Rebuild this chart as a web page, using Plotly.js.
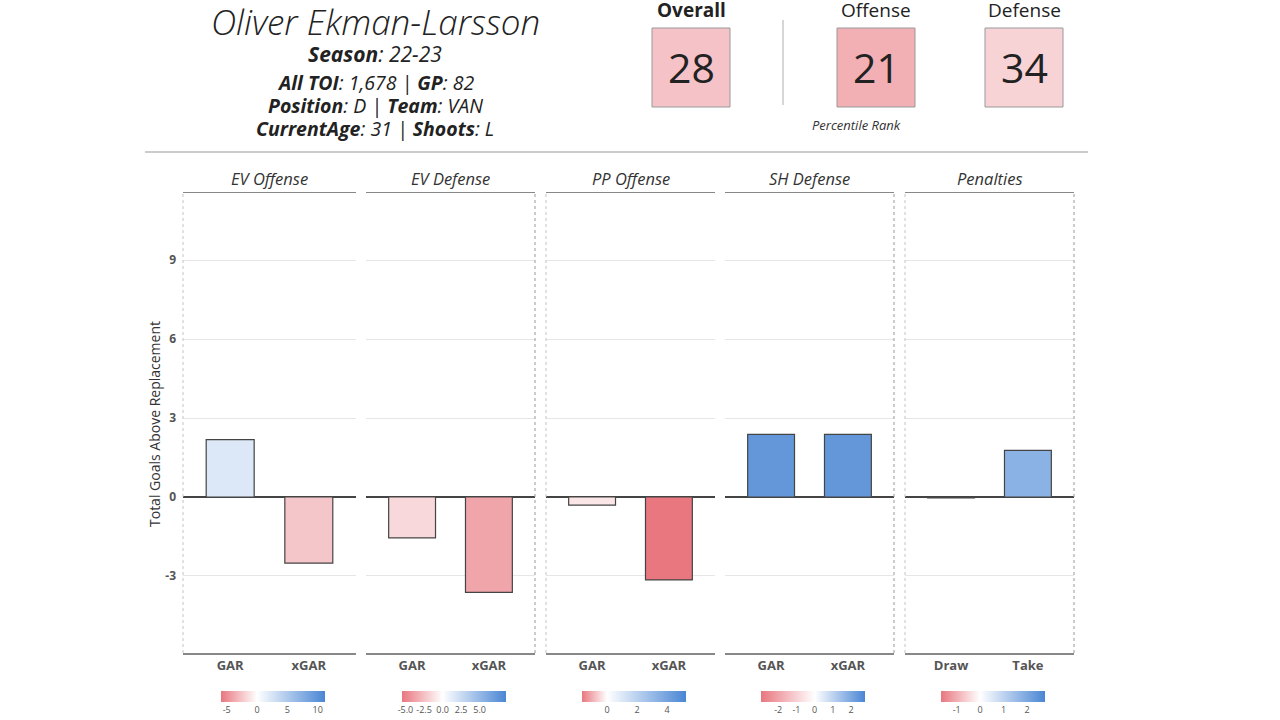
<!DOCTYPE html>
<html><head><meta charset="utf-8">
<script src="https://cdn.plot.ly/plotly-3.0.1.min.js"></script>
<style>html,body{margin:0;padding:0;background:#fff}#chart{width:1280px;height:720px}</style>
</head><body><div id="chart"></div>
<script>
// ---- data ----
const playerName = "Oliver Ekman-Larsson";
const season = "22-23";
const allTOI = "1,678";
const gamesPlayed = "82";
const position = "D";
const team = "VAN";
const currentAge = "31";
const shoots = "L";

const panels = ["EV Offense", "EV Defense", "PP Offense", "SH Defense", "Penalties"];
const categories = [["GAR","xGAR"],["GAR","xGAR"],["GAR","xGAR"],["GAR","xGAR"],["Draw","Take"]];
const values = [[2.18,-2.51],[-1.55,-3.62],[-0.31,-3.15],[2.38,2.38],[-0.03,1.77]];
const scaleMin = [-5.94,-5.47,-1.67,-2.94,-1.67];
const scaleMax = [11.2,8.55,5.27,2.76,2.77];
const scaleTicks = [[-5,0,5,10],[-5,-2.5,0,2.5,5],[0,2,4],[-2,-1,0,1,2],[-1,0,1,2]];
const scaleTickText = [["-5","0","5","10"],["-5.0","-2.5","0.0","2.5","5.0"],["0","2","4"],["-2","-1","0","1","2"],["-1","0","1","2"]];
const yTicks = [-3,0,3,6,9];
const yTickText = ["-3","0","3","6","9"];
const yTitle = "Total Goals Above Replacement";

const pctLabels = ["Overall","Offense","Defense"];
const pctValues = [28,21,34];
const pctNote = "Percentile Rank";

// ---- geometry / style ----
const W = 1280, H = 720;
const px = p => p / W, py = p => 1 - p / H;
const panelLeft = [183,366,546,725,905];
const panelRight = [356,535,715,894,1074];
const panelTop = 193, panelBottom = 653;
const RED = [232,119,127], BLUE = [98,151,213];
const FONT = "Open Sans, Noto Sans, sans-serif";

function mix(c, t){ return 'rgb(' + c.map(v => Math.round(255 - t*(255-v))).join(',') + ')'; }
function pctColor(p){ return p < 50 ? mix(RED,(50-p)/50) : mix(BLUE,(p-50)/50); }

const data = [];
const layout = {
  width: W, height: H, margin:{l:0,r:0,t:0,b:0},
  paper_bgcolor:'#fff', plot_bgcolor:'#fff', showlegend:false,
  font:{family:FONT, color:'#333'},
  shapes:[], annotations:[]
};

panels.forEach((name,i)=>{
  const k = i===0 ? '' : String(i+1);
  const cmin = scaleMin[i], cmax = scaleMax[i];
  const w = (0 - cmin)/(cmax - cmin);
  data.push({
    type:'bar', x:categories[i], y:values[i], width:0.61,
    xaxis:'x'+k, yaxis:'y'+k, hoverinfo:'skip',
    marker:{
      color:values[i], cmin:cmin, cmax:cmax,
      colorscale:[[0,mix(RED,1)],[w,'#ffffff'],[1,'rgb(74,134,212)']],
      line:{color:'#444',width:1.2},
      showscale:true,
      colorbar:{
        orientation:'h', x:px((panelLeft[i]+panelRight[i])/2+3.5), xanchor:'center',
        y:py(691), yanchor:'top', lenmode:'pixels', len:104,
        thicknessmode:'pixels', thickness:11, xpad:0, ypad:0,
        outlinewidth:0, ticks:'', tickmode:'array', tickvals:scaleTicks[i], ticktext:scaleTickText[i],
        tickangle:0, tickfont:{size:9,color:'#555',family:FONT}
      }
    }
  });
  layout['xaxis'+k] = {
    domain:[px(panelLeft[i]), px(panelRight[i])], anchor:'y'+k,
    type:'category', range:[-0.6,1.6], showgrid:false, zeroline:false,
    showline:true, mirror:true, linecolor:'#888', linewidth:1.5,
    ticks:'', tickfont:{size:13,color:'#555',family:FONT,weight:'bold'}, fixedrange:true
  };
  layout['yaxis'+k] = {
    domain:[py(panelBottom), py(panelTop)], anchor:'x'+k,
    range:[-5.925,11.545], tickmode:'array', tickvals:yTicks, ticktext:yTickText, showticklabels:i===0,
    ticks:'', ticklabelstandoff:6,
    tickfont:{size:12,color:'#555',family:FONT,weight:'bold'},
    showgrid:true, gridcolor:'#e6e6e6', gridwidth:1,
    zeroline:true, zerolinecolor:'#444', zerolinewidth:1.5,
    showline:false, fixedrange:true
  };
  layout.annotations.push({
    text:'<i>'+name+'</i>', xref:'paper', yref:'paper',
    x:px((panelLeft[i]+panelRight[i])/2), y:py(178), xanchor:'center', yanchor:'middle',
    showarrow:false, font:{size:16.5,color:'#333',family:FONT}
  });
});

// dashed group borders
[[183,'#c4c4c4'],[535,'#999'],[546,'#c4c4c4'],[894,'#999'],[905,'#c4c4c4'],[1074,'#999']].forEach(([xp,c])=>{
  layout.shapes.push({type:'line', xref:'paper', yref:'paper', x0:px(xp), x1:px(xp),
    y0:py(panelBottom), y1:py(panelTop), line:{color:c,width:1,dash:'3px,3px'}});
});

// header separator
layout.shapes.push({type:'line', xref:'paper', yref:'paper', x0:px(145), x1:px(1088),
  y0:py(152), y1:py(152), line:{color:'#999',width:1}});
// vertical separator in percentile area
layout.shapes.push({type:'line', xref:'paper', yref:'paper', x0:px(783), x1:px(783),
  y0:py(20), y1:py(105), line:{color:'#c8c8c8',width:1.5}});

// y axis title
layout.annotations.push({text:yTitle, xref:'paper', yref:'paper', x:px(154), y:py(424),
  textangle:-90, showarrow:false, xanchor:'center', yanchor:'middle',
  font:{size:14,color:'#333',family:FONT}});

// player header
const headerLines = [
  {t:'<i>'+playerName+'</i>', y:21, s:35, w:300},
  {t:'<b><i>Season</i></b><i>: '+season+'</i>', y:54, s:21, w:400},
  {t:'<b><i>All TOI</i></b><i>: '+allTOI+' | </i><b><i>GP</i></b><i>: '+gamesPlayed+'</i>', y:82, s:19.5, w:400},
  {t:'<b><i>Position</i></b><i>: '+position+' | </i><b><i>Team</i></b><i>: '+team+'</i>', y:105, s:19.5, w:400},
  {t:'<b><i>CurrentAge</i></b><i>: '+currentAge+' | </i><b><i>Shoots</i></b><i>: '+shoots+'</i>', y:128, s:19.5, w:400}
];
headerLines.forEach(h=>{
  layout.annotations.push({text:h.t, xref:'paper', yref:'paper', x:px(375), y:py(h.y),
    xanchor:'center', yanchor:'middle', showarrow:false, font:{size:h.s,color:'#222',family:FONT,weight:h.w}});
});

// percentile boxes
const boxLeft = [652,837,985];
pctLabels.forEach((lab,i)=>{
  const x0 = boxLeft[i], x1 = x0+78, cx = (x0+x1)/2;
  layout.shapes.push({type:'rect', xref:'paper', yref:'paper', x0:px(x0), x1:px(x1),
    y0:py(107), y1:py(28), fillcolor:pctColor(pctValues[i]), line:{color:'#999',width:1}});
  layout.annotations.push({text:String(pctValues[i]), xref:'paper', yref:'paper', x:px(cx), y:py(67),
    xanchor:'center', yanchor:'middle', showarrow:false, font:{size:41,color:'#222',family:FONT}});
  layout.annotations.push({text: i===0 ? '<b>'+lab+'</b>' : lab, xref:'paper', yref:'paper', x:px(cx), y:py(10),
    xanchor:'center', yanchor:'middle', showarrow:false, font:{size:19,color:'#222',family:FONT}});
});
layout.annotations.push({text:'<i>'+pctNote+'</i>', xref:'paper', yref:'paper', x:px(856), y:py(125),
  xanchor:'center', yanchor:'middle', showarrow:false, font:{size:13,color:'#333',family:FONT}});

Plotly.newPlot('chart', data, layout, {staticPlot:true, displayModeBar:false});
</script>
</body></html>
